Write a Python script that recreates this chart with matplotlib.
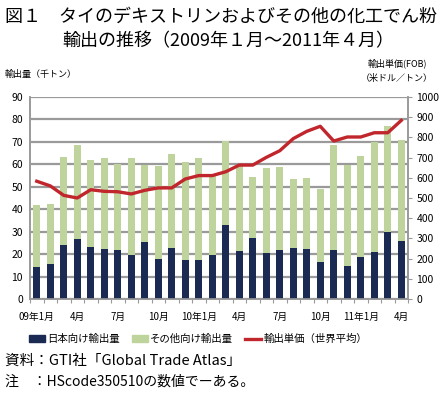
import numpy as np
import matplotlib.pyplot as plt
from matplotlib.patches import Patch
from matplotlib.lines import Line2D

plt.rcParams['font.family'] = ['Noto Sans CJK JP', 'DejaVu Sans']

# === DATA ===
japan = [14.1, 15.7, 24.2, 26.7, 23.3, 22.1, 21.8, 19.5, 25.6, 18.0, 22.7, 17.5, 17.2, 19.5,
         32.8, 21.5, 27.0, 20.3, 21.8, 22.6, 22.1, 16.3, 21.8, 14.6, 18.6, 21.0, 29.9, 25.8]
total = [42.0, 42.3, 63.3, 68.6, 62.0, 62.9, 60.2, 62.9, 59.5, 59.3, 64.5, 61.2, 62.9, 54.7,
         70.6, 59.4, 54.5, 58.4, 59.0, 53.6, 53.8, 49.0, 68.8, 59.9, 63.9, 69.9, 77.2, 71.0]
other = [t - j for t, j in zip(total, japan)]
price = [583, 560, 513, 500, 541, 533, 531, 520, 538, 550, 550, 594, 611, 611,
         630, 663, 663, 701, 734, 794, 830, 855, 782, 802, 802, 823, 823, 884]
tick_pos = [0, 3, 6, 9, 12, 15, 18, 21, 24, 27]
tick_labels = ['09年1月', '4月', '7月', '10月', '10年1月', '4月', '7月', '10月', '11年1月', '4月']

c_japan = '#1b2a52'
c_other = '#bfd39c'
c_price = '#c0262b'
c_grid = '#9a9a9a'

fig = plt.figure(figsize=(4.47, 3.94), dpi=100)
ax = fig.add_axes([30 / 447, 1 - 299 / 394, 378 / 447, 202 / 394])
x = np.arange(len(japan))

ax.bar(x, japan, width=0.52, color=c_japan, zorder=3)
ax.bar(x, other, width=0.52, bottom=japan, color=c_other, zorder=3)

ax.set_xlim(-0.5, len(japan) - 0.5)
ax.set_ylim(0, 90)
ax.set_yticks(range(0, 91, 10))
ax.yaxis.grid(True, color=c_grid, linewidth=1.6)
ax.set_axisbelow(True)
ax.tick_params(axis='y', labelsize=7.5, length=0, pad=5)

# category boundary ticks, labels at centers
ax.set_xticks(np.arange(-0.5, len(japan), 1.0))
ax.set_xticklabels([])
ax.tick_params(axis='x', which='major', length=3, color=c_grid, direction='out')
ax.set_xticks(tick_pos, minor=True)
ax.set_xticklabels(tick_labels, minor=True)
ax.tick_params(axis='x', which='minor', length=0, labelsize=7, pad=9)

for s in ['top']:
    ax.spines[s].set_visible(False)
for s in ['left', 'right', 'bottom']:
    ax.spines[s].set_color(c_grid)
    ax.spines[s].set_linewidth(1.2)

ax2 = ax.twinx()
ax2.plot(x, price, color=c_price, linewidth=2.4, zorder=4)
ax2.set_ylim(0, 1000)
ax2.set_yticks(range(0, 1001, 100))
ax2.tick_params(axis='y', labelsize=7.5, length=3, color=c_grid, pad=3)
ax2.spines['top'].set_visible(False)
for s in ['left', 'right', 'bottom']:
    ax2.spines[s].set_color(c_grid)
    ax2.spines[s].set_linewidth(1.2)

# titles and axis labels
fig.text(5 / 447, 1 - 17 / 394, '図１　タイのデキストリンおよびその他の化工でん粉',
         fontsize=13, va='center', ha='left')
fig.text(62 / 447, 1 - 41 / 394, '輸出の推移（2009年１月～2011年４月）',
         fontsize=13, va='center', ha='left')
fig.text(5 / 447, 1 - 74 / 394, '輸出量（千トン）', fontsize=6.5, va='center', ha='left')
fig.text(397 / 447, 1 - 63 / 394, '輸出単価(FOB)', fontsize=6.5, va='center', ha='center')
fig.text(397 / 447, 1 - 79 / 394, '（米ドル／トン）', fontsize=6.5, va='center', ha='center')

handles = [Patch(color=c_japan), Patch(color=c_other),
           Line2D([0], [0], color=c_price, linewidth=2.4)]
labels = ['日本向け輸出量', 'その他向け輸出量', '輸出単価（世界平均）']
fig.legend(handles, labels, loc='center', bbox_to_anchor=(198 / 447, 1 - 339 / 394),
           ncol=3, frameon=False, fontsize=7.5, handlelength=1.6, handleheight=0.6,
           columnspacing=1.1, handletextpad=0.2)

fig.text(5 / 447, 1 - 361 / 394, '資料：GTI社「Global Trade Atlas」', fontsize=10.5,
         va='center', ha='left')
fig.text(5 / 447, 1 - 382 / 394, '注　：HScode350510の数値でーある。', fontsize=10,
         va='center', ha='left')

fig.savefig('out.png', dpi=100)
